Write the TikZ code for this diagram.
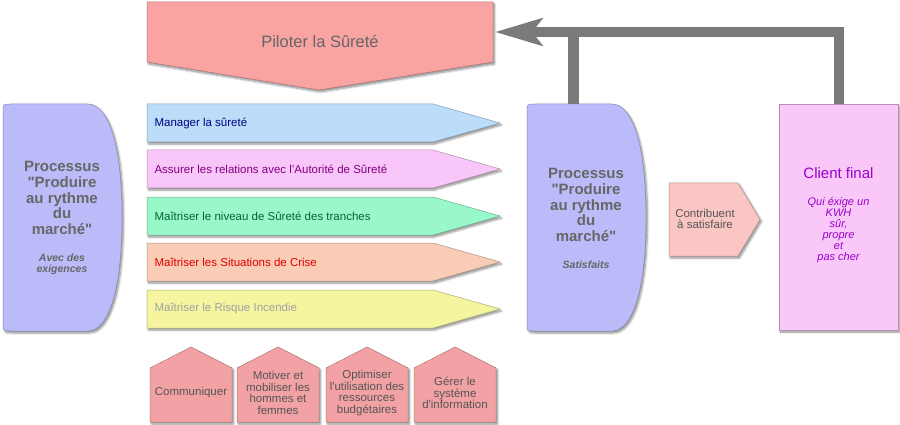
\documentclass[tikz,border=0pt]{standalone}
\usepackage{fontspec}
\setmainfont{Liberation Sans}
\usetikzlibrary{arrows.meta,shadows.blur}
\definecolor{pilotfill}{HTML}{F9A3A3}
\definecolor{chevA}{HTML}{BBDDF9}
\definecolor{chevB}{HTML}{F9C6F9}
\definecolor{chevC}{HTML}{9AF7CA}
\definecolor{chevD}{HTML}{F9CCB6}
\definecolor{chevE}{HTML}{F5F5A0}
\definecolor{txtA}{HTML}{000080}
\definecolor{txtB}{HTML}{800080}
\definecolor{txtC}{HTML}{006633}
\definecolor{txtD}{HTML}{E00000}
\definecolor{txtE}{HTML}{A0A0A0}
\definecolor{procfill}{HTML}{BBBBF9}
\definecolor{clientfill}{HTML}{F9C8F9}
\definecolor{clienttxt}{HTML}{9900CC}
\definecolor{contribfill}{HTML}{F9C6C4}
\definecolor{housefill}{HTML}{F2A2A4}
\definecolor{greytxt}{HTML}{666666}
\definecolor{darktxt}{HTML}{555555}
\definecolor{feedgrey}{HTML}{7A7A7A}
\newcommand\dq{\textquotedbl}
\newcommand\sq{\textquotesingle}
\tikzset{
  box/.style={draw=#1!72!black, fill=#1, line width=.5pt,
    blur shadow={shadow blur steps=6, shadow xshift=1.5pt, shadow yshift=-2pt, shadow opacity=45}},
  small/.style={font=\fontsize{11.5}{11.6}\selectfont},
  proctitle/.style={align=center, text=greytxt, font=\bfseries\fontsize{15}{15.6}\selectfont},
  procsub/.style={align=center, text=greytxt, font=\bfseries\itshape\fontsize{10.5}{11}\selectfont},
  feedback/.style={draw=feedgrey, line width=10pt, line join=miter}
}
\begin{document}
\begin{tikzpicture}[x=1pt, y=-1pt]
\useasboundingbox (0,0) rectangle (900,425);
% piloting process
\draw[box=pilotfill] (147,2) -- (493,2) -- (493,62) -- (319,90) -- (147,62) -- cycle;
\node[text=greytxt, font=\fontsize{16.5}{18}\selectfont] (pilot) at (320,42) {Piloter la Sûreté};
\coordinate (pilotE) at (495,32);
% realisation processes
\foreach \i/\y/\fc/\tc/\txt in {1/104/chevA/txtA/Manager la sûreté,
    2/150/chevB/txtB/Assurer les relations avec l'Autorité de Sûreté,
    3/197/chevC/txtC/Maîtriser le niveau de Sûreté des tranches,
    4/243/chevD/txtD/Maîtriser les Situations de Crise,
    5/290/chevE/txtE/Maîtriser le Risque Incendie}
{
    \draw[box=\fc] (147,\y) -- ++(286,0) -- ++(67,19) -- ++(-67,19) -- ++(-286,0) -- cycle;
    \node[small, anchor=west, text=\tc] (task\i) at (151,\y+19) {\txt};
}
% input and output
\foreach \p/\x in {L/3,R/527}
{
    \begin{scope}[shift={(\x,0)}]
    \draw[box=procfill] (8,104) -- (85,104) .. controls (104,104) and (119,140) .. (119,217.5)
        .. controls (119,295) and (104,331) .. (85,331) -- (8,331) .. controls (0,331) .. (0,323)
        -- (0,112) .. controls (0,104) .. (8,104) -- cycle;
    \end{scope}
}
\node[proctitle] (procL) at (62,198) {Processus\\\dq Produire\\au rythme\\du\\marché\dq};
\node[procsub] (needL) at (62,264) {Avec des\\exigences};
\node[proctitle] (procR) at (586,205) {Processus\\\dq Produire\\au rythme\\du\\marché\dq};
\node[procsub] (needR) at (586,265) {Satisfaits};
\coordinate (procRtop) at (573,104);
% contribution
\draw[box=contribfill] (669,183) -- (738,183) -- (760,219.5) -- (738,256) -- (669,256) -- cycle;
\node[small, align=center, text=darktxt] (contrib) at (705,219) {Contribuent\\à satisfaire};
% client
\node[box=clientfill, minimum width=119pt, minimum height=226pt, inner sep=0pt] (client) at (838.5,217) {};
\node[text=clienttxt, font=\fontsize{15}{16}\selectfont] (clientname) at (838.5,173) {Client final};
\node[align=center, text=clienttxt, font=\itshape\fontsize{11}{11}\selectfont] (clientneed) at (838.5,230) {Qui éxige un\\KWH\\sûr,\\propre\\et\\pas cher};
% feedback
\draw[feedback, line width=11pt] (procRtop) -- (procRtop |- pilotE);
\draw[feedback, -{Stealth[length=47pt, width=27pt, inset=10pt]}] (client.north) |- (pilotE);
% support processes
\foreach \i/\x/\txt in {1/150/Communiquer,
    2/237/{Motiver et\\mobiliser les\\hommes et\\femmes},
    3/326/{Optimiser\\l\sq utilisation des\\ressources\\budgétaires},
    4/414/{Gérer le\\système\\d\sq information}}
{
    \draw[box=housefill] (\x,422) -- (\x,368) -- (\x+41,347) -- (\x+82,368) -- (\x+82,422) -- cycle;
    \node[small, align=center, text=darktxt, inner sep=0pt] (help\i) at (\x+41,393) {\txt};
}
\end{tikzpicture}
\end{document}
